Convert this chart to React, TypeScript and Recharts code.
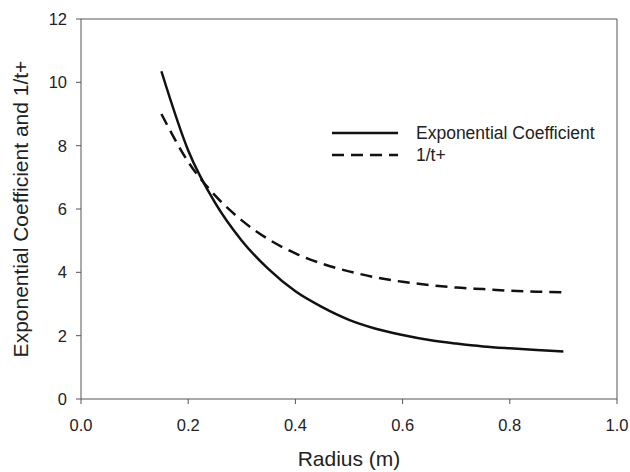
import React from 'react';
import { LineChart, Line, XAxis, YAxis, ReferenceLine } from 'recharts';

const radius = [0.15, 0.2, 0.25, 0.3, 0.35, 0.4, 0.45, 0.5, 0.55, 0.6, 0.65, 0.7, 0.75, 0.8, 0.85, 0.9];
const expCoef = [10.35, 7.85, 6.2, 5.0, 4.1, 3.4, 2.9, 2.5, 2.22, 2.02, 1.86, 1.75, 1.66, 1.6, 1.55, 1.5];
const invT = [9.0, 7.49, 6.43, 5.64, 5.04, 4.6, 4.27, 4.03, 3.84, 3.7, 3.6, 3.52, 3.47, 3.42, 3.39, 3.37];
const xTicks = [0, 0.2, 0.4, 0.6, 0.8, 1.0];
const yTicks = [0, 2, 4, 6, 8, 10, 12];
const seriesNames = ['Exponential Coefficient', '1/t+'];

const data = radius.map((r, i) => ({ r, exp: expCoef[i], inv: invT[i] }));

const FONT = '"Liberation Sans", Arial, sans-serif';
const AXIS = '#555';
const LINE = '#111';
const TEXT = '#222';
const DASH = '12 7';

const LegendBox = () => (
  <svg width={280} height={50} style={{ position: 'absolute', left: 332, top: 122, overflow: 'visible' }}>
    <line x1={0} y1={11} x2={66} y2={11} stroke={LINE} strokeWidth={2.5} />
    <text x={84} y={11} dy="0.35em" fontFamily={FONT} fontSize={17.5} fill={TEXT}>{seriesNames[0]}</text>
    <line x1={0} y1={33} x2={66} y2={33} stroke={LINE} strokeWidth={2.5} strokeDasharray={DASH} />
    <text x={84} y={33} dy="0.35em" fontFamily={FONT} fontSize={17.5} fill={TEXT}>{seriesNames[1]}</text>
  </svg>
);

export default function App() {
  return (
    <div style={{ position: 'absolute', left: 0, top: 0, width: 630, height: 472, background: '#fff' }}>
      <LineChart width={630} height={472} data={data} margin={{ top: 19, right: 13, bottom: 0, left: 0 }}>
        <XAxis
          dataKey="r"
          type="number"
          domain={[0, 1]}
          ticks={xTicks}
          tickFormatter={(v: number) => v.toFixed(1)}
          height={73}
          stroke={AXIS}
          tickSize={5}
          tickMargin={15}
          tick={{ fill: TEXT, fontSize: 16.5, fontFamily: FONT }}
          label={{ value: 'Radius (m)', position: 'insideBottom', offset: 6, fill: TEXT, fontSize: 21, fontFamily: FONT }}
        />
        <YAxis
          type="number"
          domain={[0, 12]}
          ticks={yTicks}
          width={81}
          stroke={AXIS}
          tickSize={5}
          tickMargin={9}
          tick={{ fill: TEXT, fontSize: 16.5, fontFamily: FONT }}
          label={{ value: 'Exponential Coefficient and 1/t+', angle: -90, position: 'insideLeft', offset: 21, fill: TEXT, fontSize: 21, fontFamily: FONT, style: { textAnchor: 'middle' } }}
        />
        <ReferenceLine y={12} stroke={AXIS} strokeWidth={1} />
        <ReferenceLine x={1} stroke={AXIS} strokeWidth={1} />
        <Line dataKey="exp" type="monotone" stroke={LINE} strokeWidth={2.5} dot={false} isAnimationActive={false} />
        <Line dataKey="inv" type="monotone" stroke={LINE} strokeWidth={2.5} strokeDasharray={DASH} dot={false} isAnimationActive={false} />
      </LineChart>
      <LegendBox />
    </div>
  );
}
